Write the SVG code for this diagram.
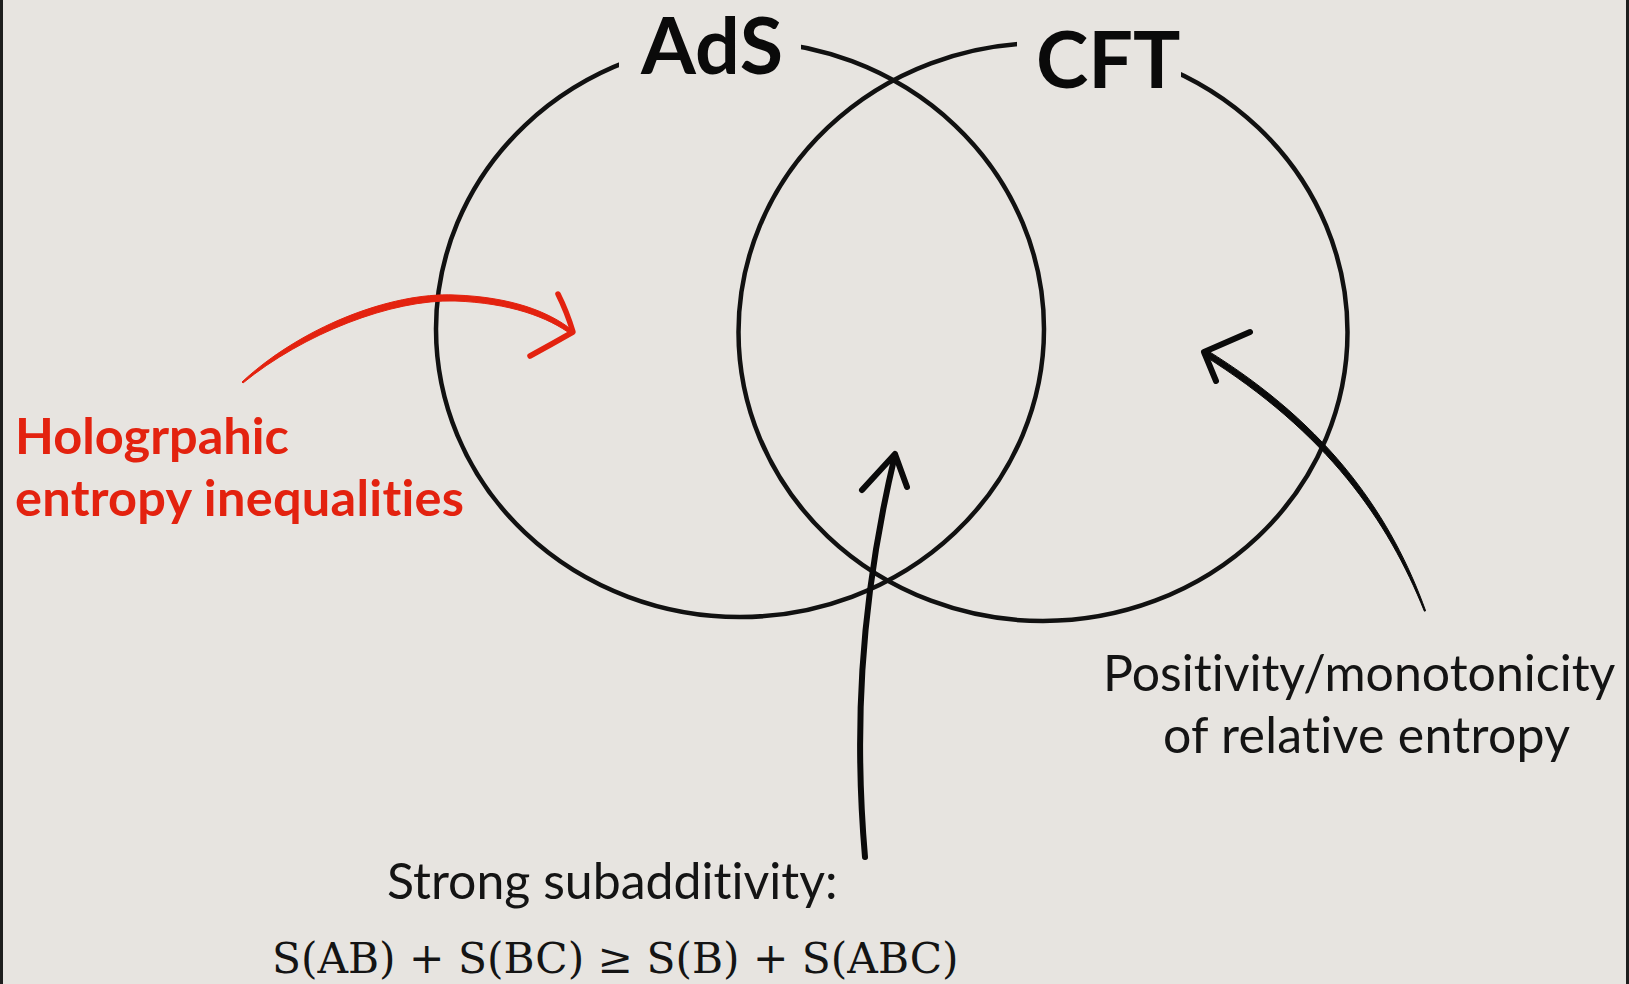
<svg xmlns="http://www.w3.org/2000/svg" width="1629" height="984" viewBox="0 0 1629 984">
  <defs>
    <style>
      text { font-variant-ligatures: none; }
      .ring { fill: none; stroke: #111; stroke-width: 4.5; }
      .title { font-family: Lato, "Open Sans", sans-serif; font-weight: 700; font-size: 79px; fill: #0a0a0a; }
      .note { font-family: Lato, "Open Sans", sans-serif; font-size: 50px; fill: #141414; }
      .red { font-family: Lato, "Open Sans", sans-serif; font-weight: 700; font-size: 50.5px; fill: #e3220f; }
      .math { font-family: "DejaVu Serif", "Liberation Serif", serif; font-size: 42.3px; fill: #141414; }
      .arrow { fill: none; stroke: #0a0a0a; stroke-width: 6; stroke-linecap: round; stroke-linejoin: round; }
      .arrow-red { fill: none; stroke: #e3220f; stroke-width: 5.5; stroke-linecap: round; stroke-linejoin: round; }
      .shaft { fill: #0a0a0a; stroke: #0a0a0a; stroke-width: 1; stroke-linejoin: round; }
      .shaft-red { fill: #e3220f; stroke: #e3220f; stroke-width: 1; stroke-linejoin: round; }
    </style>
    <!-- openings in the circle outlines where the titles sit -->
    <mask id="ads-gap">
      <rect x="0" y="0" width="1629" height="984" fill="#fff"/>
      <rect x="619" y="0" width="182" height="78" fill="#000"/>
    </mask>
    <mask id="cft-gap">
      <rect x="0" y="0" width="1629" height="984" fill="#fff"/>
      <rect x="1017" y="0" width="164" height="92" fill="#000"/>
    </mask>
  </defs>

  <!-- slide background with dark side edges -->
  <rect x="0" y="0" width="1629" height="984" fill="#e7e4e0"/>
  <rect x="0" y="0" width="3" height="984" fill="#1e1e1e"/>
  <rect x="1626" y="0" width="3" height="984" fill="#1e1e1e"/>

  <g id="ads">
    <ellipse class="ring" cx="740" cy="329" rx="304" ry="288" mask="url(#ads-gap)"/>
    <text class="title" x="641" y="74">AdS</text>
  </g>

  <g id="cft">
    <ellipse class="ring" cx="1043" cy="332" rx="304.5" ry="289" mask="url(#cft-gap)"/>
    <text class="title" x="1036" y="88">CFT</text>
  </g>

  <g id="holographic-label">
    <text class="red" x="15" y="454">Hologrpahic</text>
    <text class="red" x="15" y="516" textLength="449" lengthAdjust="spacing">entropy inequalities</text>
  </g>

  <g id="ssa-label">
    <text class="note" x="387" y="899">Strong subadditivity:</text>
    <text class="math" x="272" y="973">S(AB) + S(BC) ≥ S(B) + S(ABC)</text>
  </g>

  <g id="relative-entropy-label">
    <text class="note" x="1103" y="691">Positivity/monotonicity</text>
    <text class="note" x="1163" y="753" textLength="407" lengthAdjust="spacing">of relative entropy</text>
  </g>

  <g id="connectors">
    <!-- red arrow into the AdS-only region, tapering toward its tail -->
    <path class="shaft-red" d="M242,382 C300,328 390,292 455,295 C510,297 548,311 572,330 L572,335 C548,317 510,303 455,301 C392,299 303,334 243,383 Z"/>
    <path class="arrow-red" d="M558,294 Q567,312 573,332 Q552,344 530,356"/>
    <!-- strong subadditivity arrow into the overlap -->
    <path class="arrow" d="M865,857 C855,740 858,610 895,455"/>
    <path class="arrow" d="M862,490 L895,454 L907,487"/>
    <!-- relative entropy arrow into the CFT-only region, tapering toward its tail -->
    <path class="shaft" d="M1425.6,610.8 C1392.5,519 1332,427 1205.6,349.4 L1202.4,354.6 C1328,433 1388,521 1424.4,611.2 Z"/>
    <path class="arrow" d="M1250,332 L1204,352 L1216,381"/>
  </g>
</svg>
